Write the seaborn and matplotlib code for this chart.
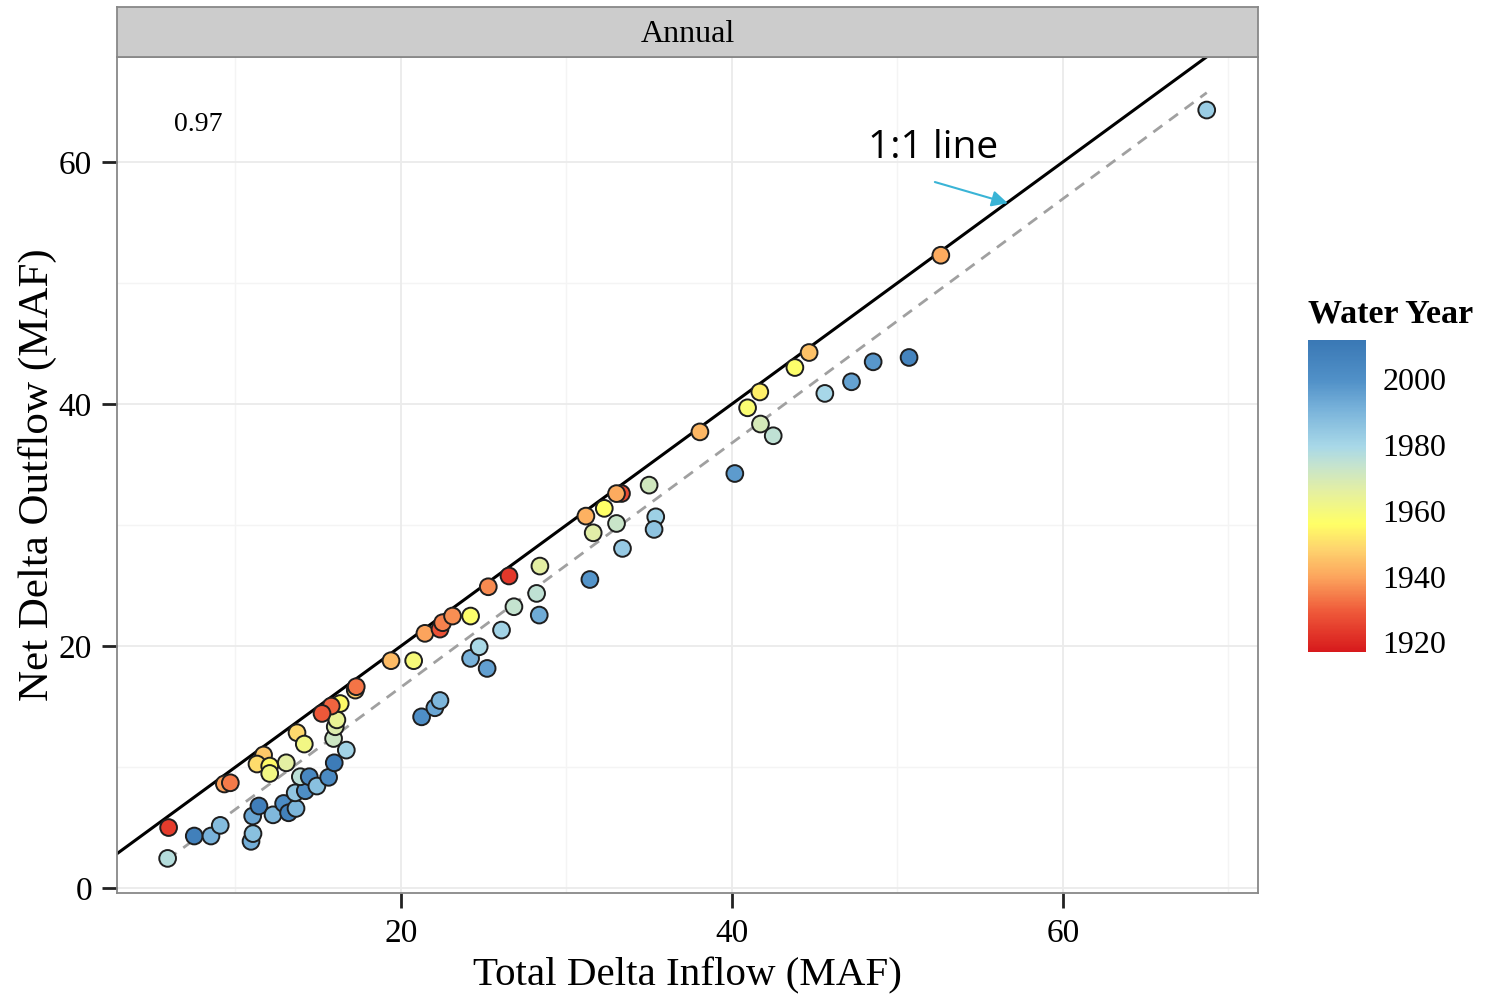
import numpy as np
import pandas as pd
import matplotlib
matplotlib.use("Agg")
import matplotlib.pyplot as plt
import seaborn as sns
from matplotlib.colors import LinearSegmentedColormap, Normalize
from matplotlib.cm import ScalarMappable

# ---- data ----
inflow = [5.96, 5.90, 7.51, 8.52, 9.08, 10.94, 11.06, 11.04, 11.42, 12.27,
          12.91, 13.21, 13.66, 13.61, 14.22, 13.92, 14.46, 14.92, 15.63, 15.97,
          16.70, 15.93, 16.03, 16.13, 16.33, 15.79, 15.23, 17.24, 17.30, 19.40,
          20.77, 13.72, 14.16, 13.07, 11.70, 11.30, 12.07, 12.07, 9.33, 9.69,
          21.25, 22.05, 22.36, 21.45, 22.36, 22.52, 23.12, 24.21, 24.21, 24.73,
          25.21, 25.28, 26.53, 26.08, 26.83, 28.20, 28.36, 28.40, 31.42, 31.18,
          31.62, 32.29, 33.03, 33.33, 33.03, 33.39, 35.00, 35.40, 35.30, 38.07,
          40.18, 40.95, 41.69, 41.73, 42.50, 43.81, 44.67, 45.62, 47.23, 48.54,
          50.71, 52.63, 68.70]
outflow = [5.00, 2.45, 4.30, 4.30, 5.18, 3.86, 4.50, 5.95, 6.78, 6.05,
           6.99, 6.22, 6.58, 7.87, 8.04, 9.20, 9.20, 8.43, 9.15, 10.35,
           11.40, 12.36, 13.33, 13.90, 15.25, 15.04, 14.43, 16.36, 16.64, 18.79,
           18.79, 12.84, 11.90, 10.35, 11.00, 10.25, 10.08, 9.47, 8.60, 8.70,
           14.15, 14.90, 15.50, 21.05, 21.40, 21.93, 22.48, 22.48, 18.98, 19.94,
           18.15, 24.90, 25.79, 21.32, 23.25, 24.35, 22.56, 26.61, 25.50, 30.74,
           29.36, 31.38, 30.13, 32.61, 32.60, 28.07, 33.30, 30.68, 29.64, 37.70,
           34.26, 39.69, 41.00, 38.35, 37.38, 43.02, 44.26, 40.88, 41.84, 43.49,
           43.85, 52.30, 64.30]
water_year = [1924, 1977, 2008, 1991, 1988, 1992, 1987, 1994, 2009, 1989,
              2002, 2007, 1990, 1985, 2001, 1976, 2004, 1987, 2003, 2010,
              1981, 1972, 1968, 1964, 1955, 1931, 1929, 1947, 1933, 1944,
              1959, 1949, 1961, 1966, 1946, 1950, 1955, 1961, 1939, 1934,
              2001, 1994, 1990, 1940, 1928, 1935, 1937, 1957, 1991, 1979,
              1996, 1936, 1923, 1981, 1974, 1975, 1993, 1966, 1999, 1942,
              1967, 1956, 1973, 1927, 1941, 1984, 1971, 1982, 1986, 1943,
              1997, 1958, 1953, 1970, 1975, 1957, 1945, 1980, 1995, 1998,
              2006, 1941, 1983]

cbar_ticks = [1920, 1940, 1960, 1980, 2000]
x_ticks = [20, 40, 60]
y_ticks = [0, 20, 40, 60]
r_text = "0.97"

df = pd.DataFrame({"inflow": inflow, "outflow": outflow, "year": water_year})

# ---- styling ----
sns.set_theme(style="white")
plt.rcParams["font.family"] = ["Liberation Serif", "DejaVu Serif"]
plt.rcParams["text.color"] = "black"
plt.rcParams["axes.labelcolor"] = "black"

year_min, year_max = 1917, 2012
cmap = LinearSegmentedColormap.from_list(
    "wy",
    [(0.00, "#d7191c"), (0.13, "#ef5a3a"), (0.24, "#fca55d"), (0.33, "#fed46e"),
     (0.41, "#ffff66"), (0.52, "#e3efa4"), (0.60, "#c4e3cf"), (0.66, "#a8d8e8"),
     (0.78, "#78b2da"), (0.87, "#5191c8"), (1.00, "#3a78b5")])
norm = Normalize(vmin=year_min, vmax=year_max)

fig = plt.figure(figsize=(14.98, 9.99), dpi=100)
ax = fig.add_axes([0.0781, 0.1061, 0.7617, 0.8368])

xlim = (2.84, 71.8)
ylim = (-0.41, 68.68)
ax.set_xlim(*xlim)
ax.set_ylim(*ylim)

# grid (theme_bw style)
for v in [10, 30, 50, 70]:
    ax.axvline(v, color="#f4f4f4", lw=1.0, zorder=0)
for v in [10, 30, 50]:
    ax.axhline(v, color="#f4f4f4", lw=1.0, zorder=0)
for v in x_ticks:
    ax.axvline(v, color="#ebebeb", lw=1.3, zorder=0)
for v in y_ticks:
    ax.axhline(v, color="#ebebeb", lw=1.3, zorder=0)

# 1:1 line
ax.plot(xlim, xlim, color="black", lw=2.2, zorder=2)

# regression line (dashed)
sns.regplot(data=df, x="inflow", y="outflow", scatter=False, ci=None, ax=ax,
            line_kws=dict(color="#a0a0a0", lw=2.0, linestyle=(0, (4, 3))),
            truncate=True)

sns.scatterplot(data=df, x="inflow", y="outflow", hue="year", palette=cmap,
                hue_norm=norm, s=145, edgecolor="#1e1e1e", linewidth=1.4,
                legend=False, ax=ax, zorder=3)

ax.set_xticks(x_ticks)
ax.set_yticks(y_ticks)
ax.tick_params(axis="both", direction="out", length=11, width=2.0,
               color="#222222", labelsize=24, labelcolor="black", pad=7,
               bottom=True, left=True)
for sp in ax.spines.values():
    sp.set_color("#888888")
    sp.set_linewidth(1.3)
ax.set_xlabel("Total Delta Inflow (MAF)", fontsize=29.5, labelpad=6, color="black")
ax.set_ylabel("Net Delta Outflow (MAF)", fontsize=31, labelpad=1, color="black")

ax.text(7.73, 63.1, r_text, fontsize=20, ha="center", va="center", color="black")

# annotation
ax.text(52.15, 61.2, "1:1 line", fontsize=28, ha="center", va="center",
        family=["Open Sans", "DejaVu Sans"], color="black")
ax.annotate("", xy=(56.68, 56.6), xytext=(52.27, 58.35),
            arrowprops=dict(arrowstyle="-|>", color="#3ab4d6", lw=1.5,
                            mutation_scale=24, shrinkA=0, shrinkB=0))

# facet strip
sax = fig.add_axes([0.0781, 0.9429, 0.7617, 0.050])
sax.set_facecolor("#cccccc")
sax.set_xticks([])
sax.set_yticks([])
for sp in sax.spines.values():
    sp.set_color("#888888")
    sp.set_linewidth(1.3)
sax.text(0.5, 0.46, "Annual", fontsize=23, ha="center", va="center",
         transform=sax.transAxes, color="black")

# colorbar
cax = fig.add_axes([0.8732, 0.3473, 0.0387, 0.3123])
sm = ScalarMappable(norm=norm, cmap=cmap)
cb = fig.colorbar(sm, cax=cax, ticks=cbar_ticks)
cb.outline.set_visible(False)
cax.tick_params(which="both", left=True, right=True, direction="in",
                color="white", length=9, width=1.2, labelsize=23, pad=12,
                labelcolor="black")
fig.text(0.8732, 0.686, "Water Year", fontsize=24.5, fontweight="bold",
         ha="left", va="center", color="black")

fig.savefig("out.png", dpi=100)
